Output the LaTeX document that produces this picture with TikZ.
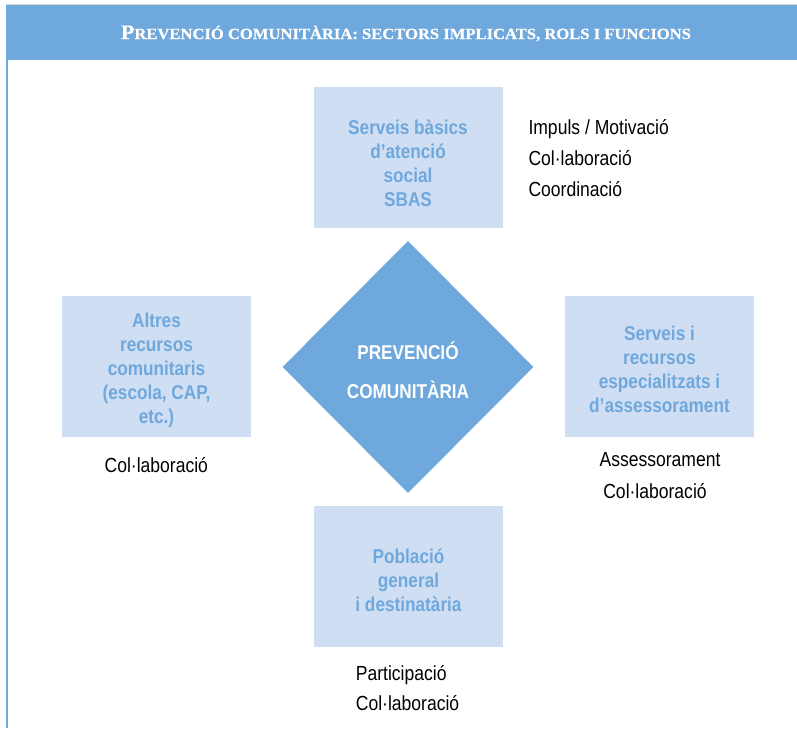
\documentclass[tikz,border=0pt]{standalone}
\usepackage{fontspec}
\usepackage{graphicx}
\setmainfont{Liberation Sans}
\newfontfamily\nsans[FakeStretch=0.86]{Liberation Sans}
\newfontfamily\tserif[FakeBold=0.6]{Liberation Serif}
\usetikzlibrary{shapes.geometric}
\definecolor{hdr}{RGB}{111,168,220}
\definecolor{boxfill}{RGB}{207,222,243}
\definecolor{topline}{RGB}{205,212,218}
\newcommand\stackc[1]{\vtop{\halign{\hfil##\hfil\cr#1\crcr}}}
\newcommand\stackl[1]{\vtop{\halign{##\hfil\cr#1\crcr}}}
\begin{document}
\begin{tikzpicture}[x=1pt,y=-1pt,
  sector/.style={fill=boxfill, draw=none, minimum width=189pt, minimum height=141pt, inner sep=0pt},
  sectortext/.style={anchor=base, inner sep=0pt, text=hdr, font=\nsans\bfseries\fontsize{20}{24}\selectfont},
  roletext/.style={inner sep=0pt, text=black, font=\nsans\fontsize{20.4}{31}\selectfont},
  centretext/.style={anchor=base, inner sep=0pt, text=white, font=\nsans\bfseries\fontsize{20}{39}\selectfont},
  titletext/.style={anchor=base, inner sep=0pt, text=white}]
\useasboundingbox (0,0) rectangle (797,728);
\fill[white] (0,0) rectangle (797,728);
% header
\draw[topline, line width=1pt] (6,4.5) -- (797,4.5);
\fill[hdr] (6,5) rectangle (797,60);
\draw[hdr, line width=1.5pt] (6.75,60) -- (6.75,728);
\node[titletext] (title) at (406,39) {\resizebox{570pt}{\height}{\tserif\bfseries\fontsize{20.5}{20.5}\selectfont P\fontsize{15.5}{15.5}\selectfont REVENCIÓ COMUNITÀRIA: SECTORS IMPLICATS, ROLS I FUNCIONS}};
% sector boxes
\node[sector] (sbas) at (408.5,157.5) {};
\node[sector] (altres) at (156.5,366.5) {};
\node[sector] (especial) at (659.5,366.5) {};
\node[sector] (poblacio) at (408.5,576.7) {};
\node[sectortext] (sbastxt) at (408,134.3) {\stackc{Serveis bàsics\cr d’atenció\cr social\cr SBAS}};
\node[sectortext] (altrestxt) at (156.5,327.7) {\stackc{Altres\cr recursos\cr comunitaris\cr (escola, CAP,\cr etc.)}};
\node[sectortext] (especialtxt) at (659.5,340) {\stackc{Serveis i\cr recursos\cr especialitzats i\cr d’assessorament}};
\node[sectortext] (poblaciotxt) at (408.5,563.3) {\stackc{Població\cr general\cr i destinatària}};
% centre diamond
\node[diamond, fill=hdr, draw=none, minimum width=251pt, minimum height=252pt, inner sep=0pt] (prev) at (408,367) {};
\node[centretext] (prevtxt) at (408,359.3) {\stackc{PREVENCIÓ\cr COMUNITÀRIA}};
% roles
\node[roletext, anchor=base west] (rolsbas) at (528.3,134) {\stackl{Impuls / Motivació\cr Col·laboració\cr Coordinació}};
\node[roletext, anchor=base] (rolaltres) at (156.3,472.7) {Col·laboració};
\node[roletext, anchor=base] (rolesp1) at (660,466.7) {Assessorament};
\node[roletext, anchor=base] (rolesp2) at (655,498.3) {Col·laboració};
\node[roletext, anchor=base west, font=\nsans\fontsize{20.4}{30.7}\selectfont] (rolpob) at (355.7,680) {\stackl{Participació\cr Col·laboració}};
\end{tikzpicture}
\end{document}
